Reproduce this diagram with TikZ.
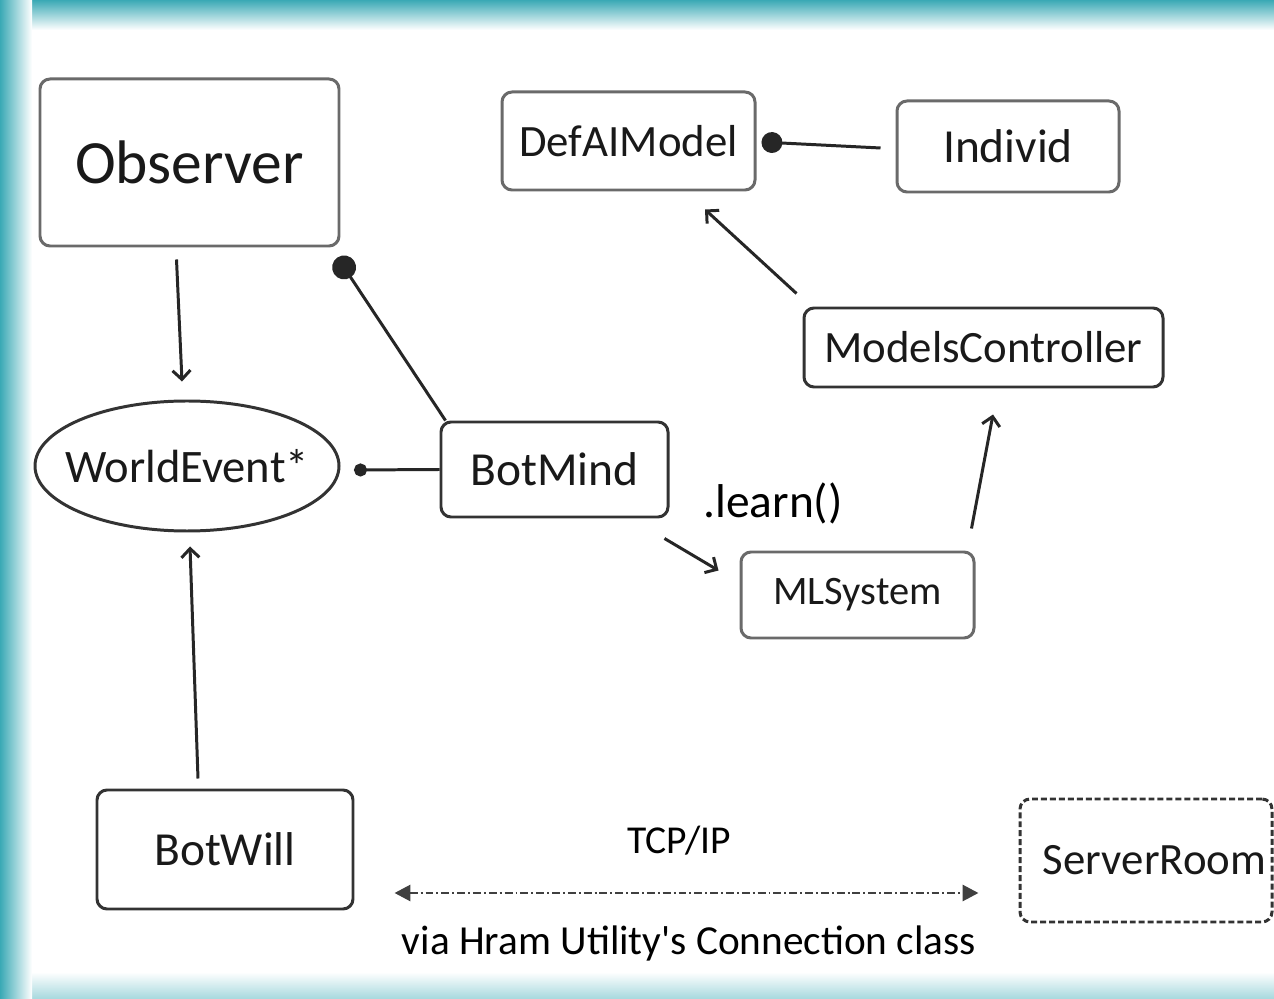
\documentclass[tikz,border=0pt]{standalone}
\usepackage{fontspec}
\setmainfont{Carlito}
\usetikzlibrary{shapes.geometric,arrows.meta,calc}
\newlength\pxu
\setlength\pxu{0.02cm}
\definecolor{teal1}{HTML}{3AA9B5}
\definecolor{boxgray}{HTML}{6A6A6A}
\definecolor{boxdark}{HTML}{333333}
\tikzset{
  cls/.style={draw=boxdark, line width=1.7pt, rounded corners=5.7pt, inner sep=0pt, text=black!90},
  clslight/.style={cls, draw=boxgray},
  conn/.style={line width=1.7pt, draw=black!85},
  arr/.style={conn, -{Straight Barb[length=5.1pt,width=10.2pt,line width=1.7pt]}},
}
\begin{document}
\begin{tikzpicture}[x=0.02cm,y=-0.02cm]
\useasboundingbox (0,0) rectangle (1274,999);
% teal frame gradients
\shade[top color=teal1, bottom color=white] (0,0) rectangle (1274,30);
\shade[top color=white, bottom color=teal1!45] (0,972) rectangle (1274,999);
\fill[white] (32,30) rectangle (1274,972);
\shade[left color=teal1, right color=white] (0,0) rectangle (32,999);

% nodes
\node[clslight, minimum width=299\pxu, minimum height=167\pxu, font=\fontsize{35}{40}\selectfont] (obs) at (189.5,162.5) {Observer};
\node[clslight, minimum width=253\pxu, minimum height=98\pxu, font=\fontsize{25.5}{30}\selectfont] (def) at (628.5,141) {DefAIModel};
\node[clslight, minimum width=222\pxu, minimum height=91\pxu, font=\fontsize{27}{32}\selectfont] (ind) at (1008,146.5) {Individ};
\node[cls, minimum width=359\pxu, minimum height=79\pxu, font=\fontsize{25.5}{30}\selectfont] (mc) at (983.5,347.5) {ModelsController};
\node[draw=boxdark, line width=1.7pt, ellipse, inner sep=0pt, minimum width=304\pxu, minimum height=130\pxu,
  label={[font=\fontsize{26.5}{31}\selectfont, inner sep=0pt, text=black!90]center:WorldEvent*}] (we) at (187,466) {};
\node[cls, minimum width=227\pxu, minimum height=95\pxu, font=\fontsize{27}{32}\selectfont] (bm) at (554.5,469.5) {BotMind};
\node[cls, draw=boxgray, minimum width=233\pxu, minimum height=86\pxu, font=\fontsize{23}{28}\selectfont] (ml) at (857.5,595) {MLSystem};
\node[cls, minimum width=256\pxu, minimum height=119\pxu, font=\fontsize{27}{32}\selectfont] (bw) at (225,849.5) {BotWill};
\node[cls, dashed, dash pattern=on 3.4pt off 1.7pt, minimum width=252\pxu, minimum height=123\pxu, text width=240\pxu, align=right, font=\fontsize{25.5}{30}\selectfont] (sr) at (1146,860.5) {ServerRoom};

% labels
\node[font=\fontsize{27}{32}\selectfont, inner sep=0pt] (learn) at (773,503) {.learn()};
\node[font=\fontsize{22.5}{27}\selectfont, inner sep=0pt] (tcp) at (679,841) {TCP/IP};
\node[font=\fontsize{23.5}{28}\selectfont, inner sep=0pt] (via) at (689,943) {via Hram Utility\textquotesingle s Connection class};

% connectors
\draw[arr] ($(obs.south)+(-13,12)$) -- ($(we.north)+(-5,-18)$);
\draw[conn, -{Circle[length=13.6pt]}] ($(bm.north west)+(6,0)$) -- ($(obs.south east)+(-3,10)$);
\draw[conn, -{Circle[length=7.4pt]}] (bm.west) -- ($(we.east)+(13.5,4)$);
\draw[arr] ($(bw.north)+(-27,-10)$) -- ($(we.south)+(3,14)$);
\draw[arr] ($(bm.south east)+(-5,20)$) -- ($(ml.north west)+(-21,20)$);
\draw[arr] ($(ml.north east)+(-4,-22)$) -- ($(mc.south)+(9.5,26)$);
\draw[arr] ($(mc.north west)+(-6,-13)$) -- ($(def.south)+(76.5,18)$);
\draw[conn, -{Circle[length=11.9pt]}] ($(ind.west)+(-15,1.5)$) -- ($(def.east)+(5,1)$);
\draw[line width=1.7pt, draw=black!75, dash pattern=on 4.5pt off 1.7pt on 1.1pt off 1.7pt,
  {Triangle[length=9.1pt,width=9.1pt]}-{Triangle[length=9.1pt,width=9.1pt]}]
  ($(bw.east)+(40,43.5)$) -- ($(sr.west)+(-40,32.5)$);
\end{tikzpicture}
\end{document}
